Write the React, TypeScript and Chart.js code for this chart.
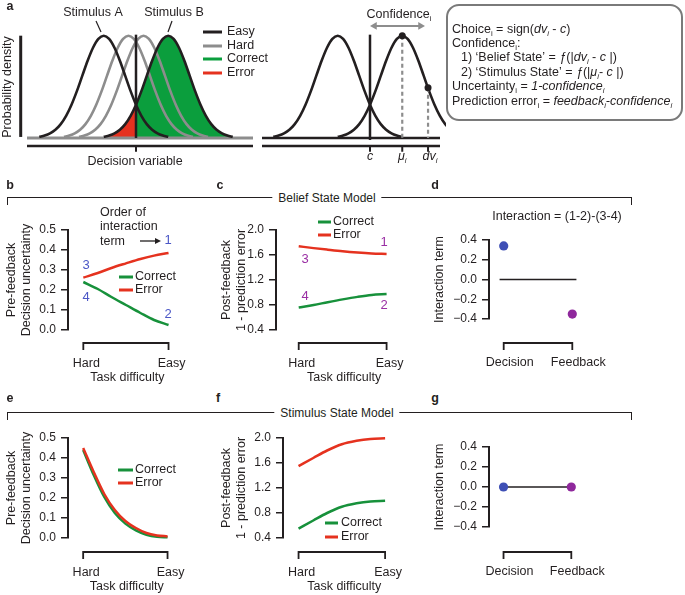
import React, { useEffect, useRef } from "react";
import { Chart, registerables } from "chart.js";

Chart.register(...registerables);

const FONT = '"Liberation Sans", Arial, Helvetica, sans-serif';
const INK = "#231f20";
const GREY = "#8d8d8d";
const GREEN = "#17913b";
const GREEN_FILL = "#0b9e3d";
const RED = "#e5321f";
const DOT_BLUE = "#3e4fb5";
const DOT_PURPLE = "#8f289c";
const NUM_BLUE = "#4b57c6";
const NUM_PURPLE = "#9a2fa4";

// ---------------- data ----------------
// Panel a: bell-shaped density profile (offset in SD units, relative height)
const bellOffsetsSd = [-3, -2.75, -2.5, -2.25, -2, -1.75, -1.5, -1.25, -1, -0.75, -0.5, -0.25, 0, 0.25, 0.5, 0.75, 1, 1.25, 1.5, 1.75, 2, 2.25, 2.5, 2.75, 3];
const bellDensity = [0.011, 0.023, 0.044, 0.08, 0.135, 0.216, 0.325, 0.458, 0.607, 0.755, 0.882, 0.969, 1, 0.969, 0.882, 0.755, 0.607, 0.458, 0.325, 0.216, 0.135, 0.08, 0.044, 0.023, 0.011];
const easyMeans = [-1.5, 1.5];
const hardMeans = [-0.35, 0.35];
const criterionC = 0;
const stateMeanMu = 1.5;
const sampleDv = 2.7;
const sampleDvDensity = 0.49;
const confidenceArrow = [0.21, 2.35];
const confidenceArrowLevel = 1.095;

// Panels b-g
const difficulty = [0, 0.17, 0.33, 0.5, 0.67, 0.83, 1];
const difficultyFine = [0, 0.125, 0.25, 0.375, 0.5, 0.625, 0.75, 0.875, 1];
const difficultyLabels = ["Hard", "Easy"];
const beliefUncCorrect = [0.24, 0.205, 0.165, 0.125, 0.085, 0.05, 0.025];
const beliefUncError = [0.262, 0.285, 0.31, 0.333, 0.355, 0.372, 0.385];
const beliefPeCorrect = [0.76, 0.8, 0.845, 0.89, 0.93, 0.96, 0.975];
const beliefPeError = [1.74, 1.71, 1.685, 1.66, 1.64, 1.625, 1.615];
const stimUncCorrect = [0.44, 0.315, 0.205, 0.125, 0.072, 0.038, 0.016, 0.006, 0.004];
const stimUncError = [0.45, 0.33, 0.22, 0.14, 0.085, 0.05, 0.025, 0.013, 0.008];
const stimPeCorrect = [0.55, 0.68, 0.8, 0.9, 0.955, 0.985, 0.995];
const stimPeError = [1.55, 1.68, 1.8, 1.9, 1.955, 1.985, 1.995];
const interactionLabels = ["Decision", "Feedback"];
const beliefInteraction = [0.34, -0.35];
const stimulusInteraction = [0, 0];
const uncertaintyTicks = [0, 0.1, 0.2, 0.3, 0.4, 0.5];
const predictionTicks = [0.4, 0.8, 1.2, 1.6, 2.0];
const interactionTicks = [-0.4, -0.2, 0, 0.2, 0.4];

// ---------------- drawing helpers ----------------
type Ctx = CanvasRenderingContext2D;

function txt(ctx: Ctx, s: string, x: number, y: number, o: any = {}) {
  ctx.save();
  ctx.font = `${o.italic ? "italic " : ""}${o.bold ? "bold " : ""}${o.size ?? 12.5}px ${FONT}`;
  ctx.fillStyle = o.color ?? INK;
  ctx.textAlign = o.align ?? "center";
  ctx.textBaseline = "middle";
  ctx.translate(x, y);
  if (o.rot) ctx.rotate(o.rot);
  ctx.fillText(s, 0, 0);
  ctx.restore();
}

function path(ctx: Ctx, pts: number[][], color = INK, w = 1.5) {
  ctx.save();
  ctx.strokeStyle = color;
  ctx.lineWidth = w;
  ctx.beginPath();
  pts.forEach(([x, y], i) => (i ? ctx.lineTo(x, y) : ctx.moveTo(x, y)));
  ctx.stroke();
  ctx.restore();
}

type Part = { t: string; i?: boolean; s?: boolean };
function rich(ctx: Ctx, parts: Part[], x: number, y: number, size = 12.5, align: "left" | "center" = "left") {
  ctx.save();
  const f = (p: Part) => `${p.i ? "italic " : ""}${p.s ? size * 0.62 : size}px ${FONT}`;
  let w = 0;
  for (const p of parts) {
    ctx.font = f(p);
    w += ctx.measureText(p.t).width;
  }
  let cx = align === "center" ? x - w / 2 : x;
  ctx.fillStyle = INK;
  ctx.textAlign = "left";
  ctx.textBaseline = "alphabetic";
  const base = y + size * 0.36;
  for (const p of parts) {
    ctx.font = f(p);
    ctx.fillText(p.t, cx, p.s ? base + size * 0.24 : base);
    cx += ctx.measureText(p.t).width;
  }
  ctx.restore();
}

function legend(ctx: Ctx, x0: number, x1: number, tx: number, rows: [string, string, number][]) {
  rows.forEach(([label, color, y]) => {
    path(ctx, [[x0, y], [x1, y]], color, 3);
    txt(ctx, label, tx, y, { align: "left" });
  });
}

function decoPlugin(ox: number, oy: number, draw: (ctx: Ctx, px: (v: number) => number, py: (v: number) => number) => void) {
  return {
    id: "deco",
    afterDraw(chart: any) {
      const ctx = chart.ctx as Ctx;
      const px = (v: number) => chart.scales.x.getPixelForValue(v) + ox;
      const py = (v: number) => chart.scales.y.getPixelForValue(v) + oy;
      ctx.save();
      ctx.translate(-ox, -oy);
      draw(ctx, px, py);
      ctx.restore();
    },
  };
}

const pts = (xs: number[], ys: (number | null)[]) => xs.map((x, i) => ({ x, y: ys[i] }));
const seg = (data: any[], color: string, w: number, extra: any = {}) => ({
  data,
  borderColor: color,
  borderWidth: w,
  pointRadius: 0,
  fill: false,
  ...extra,
});
const curve = (xs: number[], ys: number[], color: string, extra: any = {}) =>
  seg(pts(xs, ys), color, 2.5, { cubicInterpolationMode: "monotone", clip: 6, ...extra });

// ---------------- panel a ----------------
const PX_PER_SD = 21.5;
const A_YMIN = -0.147;
const A_YMAX = 1.3;
const A_AXIS_Y = -0.078;
const A_TICK_Y = -0.135;
const bell = (m: number) => bellOffsetsSd.map((o, i) => ({ x: m + o, y: bellDensity[i] }));

function baseOptions(padding: any, scales: any) {
  return {
    responsive: false,
    animation: false,
    events: [],
    layout: { padding },
    plugins: { legend: { display: false }, tooltip: { enabled: false } },
    scales,
  };
}

function aLeftConfig() {
  const ox = 0, oy = 0, w = 290, h = 175, crit = 136, left = 18, right = 255;
  const xv = (p: number) => (p - crit) / PX_PER_SD;
  const split = bellOffsetsSd.indexOf(criterionC - easyMeans[1]);
  const bB = bell(easyMeans[1]);
  const datasets = [
    { ...seg(bB.slice(0, split + 1), "rgba(0,0,0,0)", 0), fill: "origin", backgroundColor: RED, cubicInterpolationMode: "monotone", order: 20 },
    { ...seg(bB.slice(split), "rgba(0,0,0,0)", 0), fill: "origin", backgroundColor: GREEN_FILL, cubicInterpolationMode: "monotone", order: 20 },
    seg([{ x: xv(27), y: 0 }, { x: xv(253), y: 0 }], GREY, 3, { order: 15 }),
    seg(bell(hardMeans[0]), GREY, 2.6, { cubicInterpolationMode: "monotone", order: 12 }),
    seg(bell(hardMeans[1]), GREY, 2.6, { cubicInterpolationMode: "monotone", order: 12 }),
    seg(bell(easyMeans[0]), INK, 2.6, { cubicInterpolationMode: "monotone", order: 10 }),
    seg(bB, INK, 2.6, { cubicInterpolationMode: "monotone", order: 10 }),
    seg([{ x: criterionC, y: 0 }, { x: criterionC, y: 1.01 }], INK, 2.5, { order: 5 }),
    seg([{ x: xv(27), y: A_AXIS_Y }, { x: xv(253), y: A_AXIS_Y }], INK, 2.5, { order: 5 }),
    seg([{ x: criterionC, y: A_AXIS_Y }, { x: criterionC, y: A_TICK_Y }], INK, 2, { order: 5 }),
    seg([{ x: xv(20.7), y: 0.01 }, { x: xv(20.7), y: 1.0 }], INK, 3, { order: 5 }),
  ];
  return {
    type: "line",
    data: { datasets },
    options: baseOptions(
      { left, top: 5, right: w - right, bottom: h - 153 },
      {
        x: { type: "linear", display: false, min: xv(left), max: xv(right) },
        y: { type: "linear", display: false, min: A_YMIN, max: A_YMAX },
      }
    ),
    plugins: [
      decoPlugin(ox, oy, (ctx) => {
        txt(ctx, "Stimulus A", 93, 13);
        txt(ctx, "Stimulus B", 174, 13);
        path(ctx, [[96, 21], [101, 32]], INK, 1.2);
        path(ctx, [[172, 21], [168, 32]], INK, 1.2);
        legend(ctx, 203, 222, 227, [
          ["Easy", INK, 32],
          ["Hard", GREY, 46],
          ["Correct", GREEN_FILL, 59],
          ["Error", RED, 73],
        ]);
        txt(ctx, "Probability density", 8, 87, { rot: -Math.PI / 2 });
        txt(ctx, "Decision variable", 135, 162);
      }),
    ],
  };
}

function aRightConfig() {
  const ox = 255, oy = 0, w = 430, h = 175, crit = 370, left = 262, right = 446;
  const xv = (p: number) => (p - crit) / PX_PER_SD;
  const xEnd = xv(440);
  const datasets = [
    seg([{ x: xv(left), y: 0 }, { x: xEnd, y: 0 }], INK, 2.5, { order: 15 }),
    seg(bell(easyMeans[0]), INK, 2.6, { cubicInterpolationMode: "monotone", order: 10 }),
    seg(bell(easyMeans[1]), INK, 2.6, { cubicInterpolationMode: "monotone", order: 10 }),
    seg([{ x: criterionC, y: -0.02 }, { x: criterionC, y: 1.01 }], INK, 2.5, { order: 5 }),
    seg([{ x: xv(left), y: A_AXIS_Y }, { x: xEnd, y: A_AXIS_Y }], INK, 2.5, { order: 5 }),
    seg(
      [
        { x: criterionC, y: A_AXIS_Y }, { x: criterionC, y: A_TICK_Y }, { x: criterionC, y: null },
        { x: stateMeanMu, y: A_AXIS_Y }, { x: stateMeanMu, y: A_TICK_Y }, { x: stateMeanMu, y: null },
        { x: sampleDv, y: A_AXIS_Y }, { x: sampleDv, y: A_TICK_Y },
      ],
      INK, 2, { order: 5, spanGaps: false }
    ),
    seg(
      [
        { x: stateMeanMu, y: 1 }, { x: stateMeanMu, y: 0 }, { x: stateMeanMu, y: null },
        { x: sampleDv, y: sampleDvDensity }, { x: sampleDv, y: 0 },
      ],
      GREY, 2.2, { order: 8, spanGaps: false, borderDash: [4, 3] }
    ),
    {
      data: [{ x: stateMeanMu, y: 1 }, { x: sampleDv, y: sampleDvDensity }],
      showLine: false, pointRadius: 3.5, pointBackgroundColor: INK, pointBorderWidth: 0, order: 1,
    },
    {
      data: [{ x: confidenceArrow[0], y: confidenceArrowLevel }, { x: confidenceArrow[1], y: confidenceArrowLevel }],
      borderColor: GREY, borderWidth: 2, pointStyle: "triangle", pointRadius: 4.5,
      pointRotation: [-90, 90], pointBackgroundColor: GREY, pointBorderWidth: 0, order: 1,
    },
  ];
  return {
    type: "line",
    data: { datasets },
    options: baseOptions(
      { left: left - ox, top: 5, right: ox + w - right, bottom: h - 153 },
      {
        x: { type: "linear", display: false, min: xv(left), max: xv(right) },
        y: { type: "linear", display: false, min: A_YMIN, max: A_YMAX },
      }
    ),
    plugins: [
      decoPlugin(ox, oy, (ctx, px) => {
        rich(ctx, [{ t: "Confidence" }, { t: "i", s: true }], 399, 13, 12.5, "center");
        rich(ctx, [{ t: "c", i: true }], px(criterionC), 155, 12.5, "center");
        rich(ctx, [{ t: "μ", i: true }, { t: "i", s: true, i: true }], px(stateMeanMu), 155, 12.5, "center");
        rich(ctx, [{ t: "dv", i: true }, { t: "i", s: true, i: true }], px(sampleDv) + 2, 155, 12.5, "center");
        // model box
        const bx = 447, by = 5, bw = 235, bh = 115, r = 12;
        ctx.save();
        ctx.beginPath();
        ctx.moveTo(bx + r, by);
        ctx.arcTo(bx + bw, by, bx + bw, by + bh, r);
        ctx.arcTo(bx + bw, by + bh, bx, by + bh, r);
        ctx.arcTo(bx, by + bh, bx, by, r);
        ctx.arcTo(bx, by, bx + bw, by, r);
        ctx.closePath();
        ctx.fillStyle = "#fff";
        ctx.fill();
        ctx.strokeStyle = "#7a7a7a";
        ctx.lineWidth = 2;
        ctx.stroke();
        ctx.restore();
        const lx = 452, ix = 461, ys = [28, 42.4, 56.8, 71.2, 85.6, 100];
        rich(ctx, [{ t: "Choice" }, { t: "i", s: true }, { t: " = sign(" }, { t: "dv", i: true }, { t: "i", s: true, i: true }, { t: " - " }, { t: "c", i: true }, { t: ")" }], lx, ys[0]);
        rich(ctx, [{ t: "Confidence" }, { t: "i", s: true }, { t: ":" }], lx, ys[1]);
        rich(ctx, [{ t: "1) ‘Belief State’ = " }, { t: "ƒ", i: true }, { t: "(|" }, { t: "dv", i: true }, { t: "i", s: true, i: true }, { t: " - " }, { t: "c", i: true }, { t: " |)" }], ix, ys[2]);
        rich(ctx, [{ t: "2) ‘Stimulus State’ = " }, { t: "ƒ", i: true }, { t: "(|" }, { t: "μ", i: true }, { t: "i", s: true, i: true }, { t: "- " }, { t: "c", i: true }, { t: " |)" }], ix, ys[3]);
        rich(ctx, [{ t: "Uncertainty" }, { t: "i", s: true }, { t: " = " }, { t: "1-confidence", i: true }, { t: "i", s: true, i: true }], lx, ys[4]);
        rich(ctx, [{ t: "Prediction error" }, { t: "i", s: true }, { t: " = " }, { t: "feedback", i: true }, { t: "i", s: true, i: true }, { t: "-confidence", i: true }, { t: "i", s: true, i: true }], lx, ys[5]);
      }),
    ],
  };
}

// ---------------- panels b-g ----------------
type Spec = {
  ox: number; oy: number; w: number; h: number;
  area: { left: number; top: number; right: number; bottom: number };
  xMap: [number, number];
  yTicks: number[];
  yTitle: string | string[];
  yTitleX: number;
  xLabels: string[];
  xLabelY: number;
  labelOffset: number;
  xTitle?: string;
  xTitleY?: number;
  bracketY: number;
  datasets: any[];
  draw?: (ctx: Ctx, px: (v: number) => number, py: (v: number) => number) => void;
};

const fmt = (v: number) => (v < -1e-9 ? "\u2212" : "") + Math.abs(v).toFixed(1);

function panelConfig(p: Spec) {
  const unit = p.xMap[1] - p.xMap[0];
  const font = { family: FONT, size: 12.5 };
  return {
    type: "line",
    data: { datasets: p.datasets },
    options: baseOptions(
      { left: 0, top: p.area.top - p.oy, right: p.ox + p.w - p.area.right, bottom: 0 },
      {
        x: {
          type: "linear",
          min: (p.area.left - p.xMap[0]) / unit,
          max: (p.area.right - p.xMap[0]) / unit,
          afterBuildTicks: (s: any) => {
            s.ticks = [{ value: 0 }, { value: 1 }];
          },
          afterFit: (s: any) => {
            s.height = p.oy + p.h - p.area.bottom;
          },
          grid: { display: false, drawTicks: false },
          border: { display: false },
          ticks: {
            callback: (_v: any, i: number) => p.xLabels[i],
            padding: p.xLabelY - p.area.bottom - 7.5,
            labelOffset: p.labelOffset,
            maxRotation: 0,
            autoSkip: false,
            font,
            color: INK,
          },
          title: p.xTitle
            ? { display: true, text: p.xTitle, font, color: INK, padding: { top: 0, bottom: p.oy + p.h - (p.xTitleY as number) - 7.5 } }
            : { display: false },
        },
        y: {
          type: "linear",
          min: p.yTicks[0],
          max: p.yTicks[p.yTicks.length - 1],
          afterBuildTicks: (s: any) => {
            s.ticks = p.yTicks.map((v) => ({ value: v }));
          },
          afterFit: (s: any) => {
            s.width = p.area.left - p.ox;
          },
          grid: { display: true, drawOnChartArea: false, drawTicks: true, tickLength: 7, color: INK, lineWidth: 1.5 },
          border: { display: true, color: INK, width: 2 },
          ticks: { callback: (v: number) => fmt(v), padding: 5, font: { family: FONT, size: 12 }, color: INK },
          title: { display: true, text: p.yTitle, font, color: INK, padding: { top: p.yTitleX - p.ox - 7.5, bottom: 0 } },
        },
      }
    ),
    plugins: [
      decoPlugin(p.ox, p.oy, (ctx, px, py) => {
        const x0 = px(0), x1 = px(1), by = p.bracketY;
        path(ctx, [[x0, by + 7], [x0, by], [x1, by], [x1, by + 7]], INK, 1.8);
        if (p.draw) p.draw(ctx, px, py);
      }),
    ],
  };
}

const uncTitle = ["Pre-feedback", "Decision uncertainty"];
const peTitle = ["Post-feedback", "1 - prediction error"];

const specB: Spec = {
  ox: 0, oy: 205, w: 212, h: 185,
  area: { left: 68, top: 230, right: 192, bottom: 330 },
  xMap: [84, 173], yTicks: uncertaintyTicks, yTitle: uncTitle, yTitleX: 12,
  xLabels: difficultyLabels, xLabelY: 364, labelOffset: 3, xTitle: "Task difficulty", xTitleY: 378, bracketY: 343,
  datasets: [curve(difficulty, beliefUncCorrect, GREEN), curve(difficulty, beliefUncError, RED)],
  draw: (ctx) => {
    legend(ctx, 119, 133, 135, [["Correct", GREEN, 277], ["Error", RED, 290]]);
    const o = { size: 13, color: NUM_BLUE };
    txt(ctx, "3", 86, 265, o);
    txt(ctx, "4", 86, 297, o);
    txt(ctx, "1", 168, 240, o);
    txt(ctx, "2", 168, 314, o);
    txt(ctx, "Order of", 100, 213, { align: "left" });
    txt(ctx, "interaction", 100, 227, { align: "left" });
    txt(ctx, "term", 100, 242, { align: "left" });
    path(ctx, [[140, 241], [156, 241]], INK, 1.3);
    ctx.save();
    ctx.fillStyle = INK;
    ctx.beginPath();
    ctx.moveTo(161, 241);
    ctx.lineTo(155, 238);
    ctx.lineTo(155, 244);
    ctx.closePath();
    ctx.fill();
    ctx.restore();
  },
};

const specC: Spec = {
  ox: 212, oy: 205, w: 218, h: 185,
  area: { left: 276, top: 230, right: 414, bottom: 330 },
  xMap: [299, 388], yTicks: predictionTicks, yTitle: peTitle, yTitleX: 227,
  xLabels: difficultyLabels, xLabelY: 364, labelOffset: 3, xTitle: "Task difficulty", xTitleY: 378, bracketY: 343,
  datasets: [curve(difficulty, beliefPeCorrect, GREEN), curve(difficulty, beliefPeError, RED)],
  draw: (ctx) => {
    legend(ctx, 318, 331, 333, [["Correct", GREEN, 222], ["Error", RED, 235]]);
    const o = { size: 13, color: NUM_PURPLE };
    txt(ctx, "1", 384, 242, o);
    txt(ctx, "3", 305, 259, o);
    txt(ctx, "4", 305, 296, o);
    txt(ctx, "2", 384, 305, o);
  },
};

const specD: Spec = {
  ox: 430, oy: 205, w: 210, h: 185,
  area: { left: 489, top: 240, right: 625, bottom: 319 },
  xMap: [507, 591], yTicks: interactionTicks, yTitle: "Interaction term", yTitleX: 440,
  xLabels: interactionLabels, xLabelY: 363, labelOffset: 6, bracketY: 343,
  datasets: [
    seg([{ x: -0.06, y: 0 }, { x: 1.06, y: 0 }], INK, 1.5),
    {
      data: pts([0, 1], beliefInteraction), showLine: false, pointRadius: 4.6,
      pointBackgroundColor: [DOT_BLUE, DOT_PURPLE], pointBorderWidth: 0, clip: 6,
    },
  ],
  draw: (ctx) => {
    txt(ctx, "Interaction = (1-2)-(3-4)", 557, 217);
  },
};

const specE: Spec = {
  ox: 0, oy: 420, w: 212, h: 175,
  area: { left: 68, top: 438, right: 192, bottom: 538 },
  xMap: [84, 173], yTicks: uncertaintyTicks, yTitle: uncTitle, yTitleX: 12,
  xLabels: difficultyLabels, xLabelY: 573, labelOffset: 3, xTitle: "Task difficulty", xTitleY: 587, bracketY: 552,
  datasets: [
    curve(difficultyFine, stimUncError, RED, { order: 1 }),
    curve(difficultyFine, stimUncCorrect, GREEN, { order: 2 }),
  ],
  draw: (ctx) => {
    legend(ctx, 118, 133, 135, [["Correct", GREEN, 470], ["Error", RED, 483]]);
  },
};

const specF: Spec = {
  ox: 212, oy: 420, w: 218, h: 175,
  area: { left: 283, top: 438, right: 409, bottom: 538 },
  xMap: [299, 388], yTicks: predictionTicks, yTitle: peTitle, yTitleX: 227,
  xLabels: difficultyLabels, xLabelY: 573, labelOffset: 3, xTitle: "Task difficulty", xTitleY: 587, bracketY: 552,
  datasets: [curve(difficulty, stimPeCorrect, GREEN), curve(difficulty, stimPeError, RED)],
  draw: (ctx) => {
    legend(ctx, 325, 338, 341, [["Correct", GREEN, 523], ["Error", RED, 537]]);
  },
};

const specG: Spec = {
  ox: 430, oy: 420, w: 210, h: 175,
  area: { left: 489, top: 447, right: 625, bottom: 527 },
  xMap: [507, 591], yTicks: interactionTicks, yTitle: "Interaction term", yTitleX: 440,
  xLabels: interactionLabels, xLabelY: 572, labelOffset: 6, bracketY: 552,
  datasets: [
    {
      data: pts([0, 1], stimulusInteraction), borderColor: INK, borderWidth: 1.5, pointRadius: 4.6,
      pointBackgroundColor: [DOT_BLUE, DOT_PURPLE], pointBorderWidth: 0, clip: 6,
    },
  ],
};

// ---------------- components ----------------
function ChartCanvas({ x, y, w, h, make }: { x: number; y: number; w: number; h: number; make: () => any }) {
  const ref = useRef<HTMLCanvasElement>(null);
  useEffect(() => {
    const chart = new Chart(ref.current as HTMLCanvasElement, make());
    return () => chart.destroy();
  }, []);
  return (
    <canvas
      ref={ref}
      width={w}
      height={h}
      style={{ position: "absolute", left: x, top: y, width: w, height: h }}
    />
  );
}

function Letter({ ch, x, y }: { ch: string; x: number; y: number }) {
  return (
    <div
      style={{
        position: "absolute", left: x, top: y, transform: "translate(-50%,-50%)",
        font: `bold 12.5px ${FONT}`, color: INK, lineHeight: "14px",
      }}
    >
      {ch}
    </div>
  );
}

function Section({ y, cx, title }: { y: number; cx: number; title: string }) {
  return (
    <>
      <div
        style={{
          position: "absolute", left: 7, top: y - 0.75, width: 625, height: 8, boxSizing: "border-box",
          borderTop: `1.5px solid ${INK}`, borderLeft: `1.5px solid ${INK}`, borderRight: `1.5px solid ${INK}`,
        }}
      />
      <div
        style={{
          position: "absolute", left: cx, top: y, transform: "translate(-50%,-50%)", background: "#fff",
          padding: "0 6px", font: `12px ${FONT}`, color: INK, lineHeight: "15px", whiteSpace: "nowrap",
        }}
      >
        {title}
      </div>
    </>
  );
}

const charts = [
  { key: "aL", x: 0, y: 0, w: 290, h: 175, make: aLeftConfig },
  { key: "aR", x: 255, y: 0, w: 430, h: 175, make: aRightConfig },
  ...[specB, specC, specD, specE, specF, specG].map((s, i) => ({
    key: "p" + i, x: s.ox, y: s.oy, w: s.w, h: s.h, make: () => panelConfig(s),
  })),
];

export default function App() {
  return (
    <div style={{ position: "absolute", left: 0, top: 0, width: 685, height: 595, background: "#fff", overflow: "hidden" }}>
      {charts.map((c) => (
        <ChartCanvas key={c.key} x={c.x} y={c.y} w={c.w} h={c.h} make={c.make} />
      ))}
      <Section y={198} cx={327} title="Belief State Model" />
      <Section y={413} cx={337} title="Stimulus State Model" />
      <Letter ch="a" x={10} y={6} />
      <Letter ch="b" x={10} y={185} />
      <Letter ch="c" x={220} y={185} />
      <Letter ch="d" x={435} y={185} />
      <Letter ch="e" x={10} y={398} />
      <Letter ch="f" x={218} y={398} />
      <Letter ch="g" x={435} y={398} />
    </div>
  );
}
